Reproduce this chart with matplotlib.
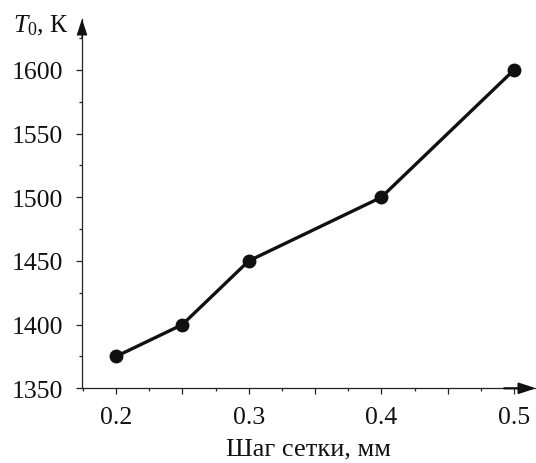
import matplotlib
matplotlib.use("Agg")
import matplotlib.pyplot as plt
from matplotlib.ticker import MultipleLocator, FuncFormatter

# Данные графика
grid_step = [0.2, 0.25, 0.3, 0.4, 0.5]
temperature = [1375, 1400, 1450, 1500, 1600]

plt.rcParams['font.family'] = ['Liberation Serif', 'DejaVu Serif']
plt.rcParams['mathtext.fontset'] = 'custom'
plt.rcParams['mathtext.rm'] = 'Liberation Serif'
plt.rcParams['mathtext.it'] = 'Liberation Serif:italic'

fig = plt.figure(figsize=(5.36, 4.64), dpi=100)
ax = fig.add_axes([82/536, (464-389.3)/464, (536-82)/536, (389.3-20)/464])

ax.plot(grid_step, temperature, color='#111111', lw=2.4, marker='o',
        markersize=9, markerfacecolor='#111111', markeredgecolor='#111111')

ax.set_xlim(0.17437, 0.51658)
ax.set_ylim(1350, 1640)

# Оси со стрелками
for s in ['top', 'right']:
    ax.spines[s].set_visible(False)
for s in ['left', 'bottom']:
    ax.spines[s].set_linewidth(0.9)
    ax.spines[s].set_color('#222222')

ax.annotate('', xy=(0, 1), xytext=(0, 0.95), xycoords='axes fraction',
            arrowprops=dict(arrowstyle='-|>,head_length=1.0,head_width=0.33',
                            color='#111111', lw=0.9,
                            mutation_scale=10, shrinkA=0, shrinkB=0))
ax.annotate('', xy=(1, 0), xytext=(0.93, 0), xycoords='axes fraction',
            arrowprops=dict(arrowstyle='-|>,head_length=1.0,head_width=0.33',
                            color='#111111', lw=1.6,
                            mutation_scale=10, shrinkA=0, shrinkB=0),
            annotation_clip=False)

ax.xaxis.set_major_locator(MultipleLocator(0.05))
ax.xaxis.set_minor_locator(MultipleLocator(0.025))
ax.yaxis.set_major_locator(MultipleLocator(50))
ax.yaxis.set_minor_locator(MultipleLocator(25))

def xfmt(v, pos):
    if abs(round(v * 10) - v * 10) < 1e-6:
        return '%.1f' % v
    return ''

ax.xaxis.set_major_formatter(FuncFormatter(xfmt))
ax.yaxis.set_major_formatter(FuncFormatter(lambda v, p: '%d' % v))

ax.tick_params(which='major', direction='out', length=4.5, width=0.9,
               color='#222222', labelsize=18.5, labelcolor='#111111')
ax.tick_params(which='minor', direction='out', length=2.5, width=0.9,
               color='#222222')
ax.tick_params(axis='y', which='major', pad=9)
ax.tick_params(axis='x', which='major', pad=8)

ax.set_xlabel('Шаг сетки, мм', fontsize=19, color='#111111', labelpad=7)

fig.text(13/536, 1 - 32/464, r'$T_0$, К', fontsize=18.5, color='#111111',
         ha='left', va='baseline')

fig.savefig('out.png', dpi=100)
